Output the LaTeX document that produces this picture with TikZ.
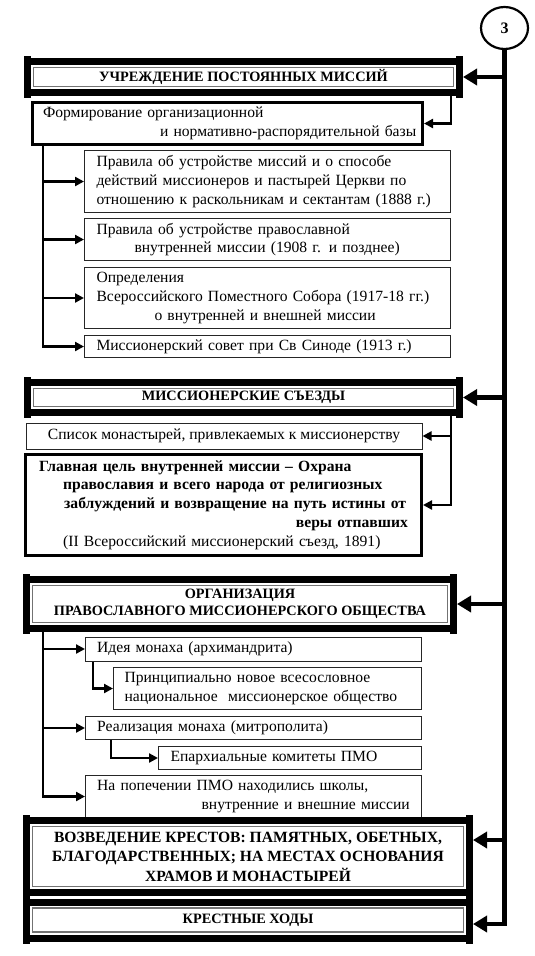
\documentclass[tikz,border=0pt]{standalone}
\usepackage{fontspec}
\setmainfont{Liberation Serif}
\usetikzlibrary{arrows.meta,shapes.geometric}
\begin{document}
\begin{tikzpicture}[x=1pt,y=-1pt,
  every node/.style={inner sep=0pt},
  bodyfont/.style={font=\fontsize{15.6}{18.8}\selectfont},
  thinbox/.style={draw=black!85, line width=1pt, bodyfont, align=left},
  thickbox/.style={draw, line width=3pt, bodyfont, align=left},
  heavybox/.style={draw, line width=7pt, font=\fontsize{14.3}{17}\selectfont\bfseries, align=center},
  conn/.style={line width=2.5pt, -{Triangle[length=9pt,width=9pt]}},
  mainconn/.style={line width=4.5pt, -{Triangle[length=14pt,width=16pt]}},
  innerline/.style={draw=black!55, line width=1.5pt},
]
\fill[white] (0,0) rectangle (535,956);
\useasboundingbox (0,0) rectangle (535,956);

% circle
\node[draw, ellipse, line width=2.2pt, minimum width=47pt, minimum height=42pt,
      font=\fontsize{16}{18}\selectfont\bfseries] (c3) at (504.5,28) {3};

% block 1
\node[heavybox, minimum width=432pt, minimum height=31pt] (b1) at (243.5,77) {УЧРЕЖДЕНИЕ ПОСТОЯННЫХ МИССИЙ};
\node[thickbox, minimum width=390pt, minimum height=42pt, text width=369pt] (b2) at (227.5,123.5)
  {Формирование организационной\\\hspace*{117pt}\mbox{и нормативно-распорядительной базы}};
\node[thinbox, minimum width=366pt, minimum height=62pt, text width=342pt] (b3) at (267.5,181.5)
  {\mbox{Правила об устройстве миссий и о способе}\\\mbox{действий миссионеров и пастырей Церкви по}\\\mbox{отношению к раскольникам и сектантам (1888 г.)}};
\node[thinbox, minimum width=366pt, minimum height=42pt, text width=342pt] (b4) at (267.5,239.5)
  {Правила об устройстве православной\\\hspace*{38pt}\mbox{внутренней миссии (1908 г. и позднее)}};
\node[thinbox, minimum width=366pt, minimum height=61pt, text width=342pt] (b5) at (267.5,298)
  {Определения\\\mbox{Всероссийского Поместного Собора (1917-18 гг.)}\\\hspace*{58pt}о внутренней и внешней миссии};
\node[thinbox, minimum width=366pt, minimum height=22pt, text width=342pt] (b6) at (267.5,346.5)
  {Миссионерский совет при Св Синоде (1913 г.)};

% block 2
\node[heavybox, minimum width=432pt, minimum height=30pt] (b7) at (243.5,397.5) {МИССИОНЕРСКИЕ СЪЕЗДЫ};
\node[thinbox, align=center, minimum width=396pt, minimum height=26pt] (b8) at (224,436)
  {Список монастырей, привлекаемых к миссионерству};
\node[thickbox, minimum width=396pt, minimum height=101pt, text width=368.6pt] (b9) at (223.5,505)
  {\bfseries Главная цель внутренней миссии – Охрана\\\hspace*{24pt}\mbox{православия и всего народа от религиозных}\\\hspace*{25pt}\mbox{заблуждений и возвращение на путь истины от}\\\hfill веры отпавших\\\mdseries\hspace*{24pt}\mbox{(II Всероссийский миссионерский съезд, 1891)}};

% block 3
\node[heavybox, minimum width=427pt, minimum height=49pt] (b10) at (240,604)
  {ОРГАНИЗАЦИЯ\\ПРАВОСЛАВНОГО МИССИОНЕРСКОГО ОБЩЕСТВА};
\node[thinbox, minimum width=336pt, minimum height=24pt, text width=312.6pt] (b11) at (253.5,649)
  {Идея монаха (архимандрита)};
\node[thinbox, minimum width=308pt, minimum height=42pt, text width=286pt] (b12) at (267.5,688.5)
  {Принципиально новое всесословное\\\mbox{национальное\ \ миссионерское общество}};
\node[thinbox, minimum width=336pt, minimum height=23pt, text width=312.6pt] (b13) at (253.5,728)
  {Реализация монаха (митрополита)};
\node[thinbox, minimum width=263pt, minimum height=23pt, text width=239pt] (b14) at (290,758)
  {Епархиальные комитеты ПМО};
\node[thinbox, minimum width=336pt, minimum height=42pt, text width=312.6pt] (b15) at (253.5,796.5)
  {\mbox{На попечении ПМО находились школы,}\\\hfill внутренние и внешние миссии};

% blocks 4 and 5
\node[heavybox, minimum width=443pt, minimum height=72pt, font=\fontsize{15.6}{19.5}\selectfont\bfseries] (b16) at (248,856.5)
  {ВОЗВЕДЕНИЕ КРЕСТОВ: ПАМЯТНЫХ, ОБЕТНЫХ,\\БЛАГОДАРСТВЕННЫХ; НА МЕСТАХ ОСНОВАНИЯ\\ХРАМОВ И МОНАСТЫРЕЙ};
\node[heavybox, minimum width=443pt, minimum height=36pt] (b17) at (248,920)
  {КРЕСТНЫЕ ХОДЫ};

% heavy frame details
\foreach \n in {b1,b7,b10,b16,b17} {
  \draw[innerline] ([shift={(9.5,9.5)}]\n.north west) rectangle ([shift={(-9.5,-9.5)}]\n.south east);
  \fill ([shift={(0,-2)}]\n.north west) rectangle ([shift={(7,2)}]\n.south west);
  \fill ([shift={(-7,-2)}]\n.north east) rectangle ([shift={(0,2)}]\n.south east);
}

% main connectors
\draw[mainconn] (c3.south) |- (b17.east |- 0,924);
\draw[mainconn] (b1.east -| c3.south) -- (b1.east);
\draw[mainconn] (b7.east -| c3.south) -- (b7.east);
\draw[mainconn] (b10.east -| c3.south) -- (b10.east);
\draw[mainconn] (c3.south |- 0,840) -- (b16.east |- 0,840);

% inner connectors
\draw[conn] ([xshift=-12pt]b1.south east) |- (b2.east);
\foreach \t in {b3,b4,b5,b6} \draw[conn] ([xshift=12pt]b2.south west) |- (\t.west);
\draw[conn] ([xshift=-12pt]b7.south east) |- (b8.east);
\draw[conn] ([xshift=-12pt]b7.south east) |- (b9.east);
\foreach \t in {b11,b13,b15} \draw[conn] ([xshift=20pt]b10.south west) |- (\t.west);
\draw[conn] ([xshift=8pt]b11.south west) |- (b12.west);
\draw[conn] ([xshift=26pt]b13.south west) |- (b14.west);
\end{tikzpicture}
\end{document}
